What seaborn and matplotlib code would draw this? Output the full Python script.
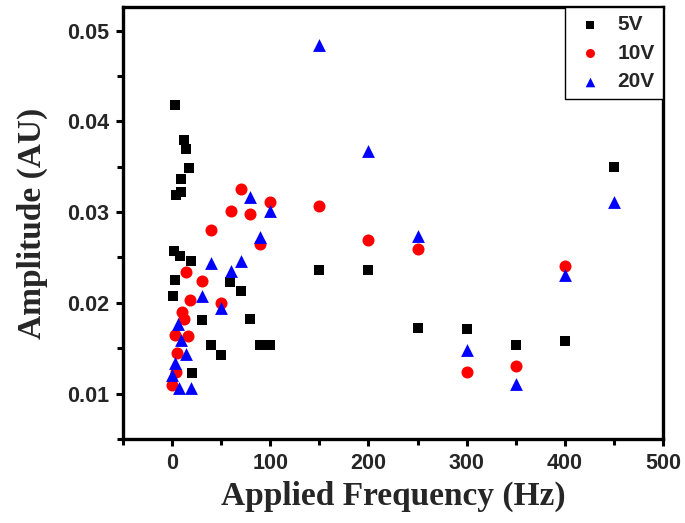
import matplotlib
matplotlib.use("Agg")
import matplotlib.pyplot as plt
import seaborn as sns
import pandas as pd
from matplotlib.ticker import MultipleLocator

# ---- data ----
freq_5v = [2.6, 11.8, 14.2, 16.9, 9.5, 4.4, 9.0, 1.6, 8.4, 19.3, 3.4, 1.0, 20.4,
           30.5, 59.3, 70.2, 39.7, 49.9, 79.7, 89.9, 100.1,
           150, 200, 250, 300, 350, 400, 450]
amp_5v = [0.04185, 0.0380, 0.0370, 0.03487, 0.03366, 0.03193, 0.03226, 0.02568,
          0.02513, 0.02458, 0.02248, 0.02072, 0.01228,
          0.01815, 0.02226, 0.02127, 0.01532, 0.01422, 0.01823, 0.01532, 0.0154,
          0.02366, 0.02366, 0.01724, 0.01713, 0.0154, 0.01584, 0.03498]

freq_10v = [0.0, 4.2, 5.1, 2.5, 16.4, 9.7, 11.8, 18.6, 14.3,
            30.1, 39.7, 50.2, 60.0, 70.2, 79.7, 89.9, 100.1,
            150, 200, 250, 300, 350, 400]
amp_10v = [0.01099, 0.01234, 0.01448, 0.01645, 0.01631, 0.0190, 0.01825, 0.02027, 0.02341,
           0.02239, 0.02807, 0.01999, 0.03009, 0.03259, 0.0298, 0.02653, 0.03112,
           0.03072, 0.02697, 0.02594, 0.01235, 0.01309, 0.02403]

freq_20v = [0.0, 3.4, 7.4, 19.6, 14.6, 8.8, 5.9,
            30.5, 39.7, 50.2, 60.0, 70.2, 79.7, 89.9, 100.1,
            150, 200, 250, 300, 350, 400, 450]
amp_20v = [0.01209, 0.01338, 0.01063, 0.01057, 0.01439, 0.01595, 0.01765,
           0.0208, 0.0244, 0.01944, 0.02355, 0.02458, 0.03168, 0.02722, 0.03009,
           0.04838, 0.03678, 0.02733, 0.01477, 0.01107, 0.02311, 0.03108]

x_ticks = [0, 100, 200, 300, 400, 500]
y_ticks = [0.01, 0.02, 0.03, 0.04, 0.05]

sns.set_theme(style="ticks")
plt.rcParams["font.family"] = ["Liberation Sans", "DejaVu Sans"]

fig = plt.figure(figsize=(6.85, 5.23), dpi=100)
ax = fig.add_axes([123 / 685, 1 - 439 / 523, (663 - 123) / 685, (439 - 7) / 523])

df5 = pd.DataFrame({"f": freq_5v, "a": amp_5v})
df10 = pd.DataFrame({"f": freq_10v, "a": amp_10v})
df20 = pd.DataFrame({"f": freq_20v, "a": amp_20v})

sns.scatterplot(data=df5, x="f", y="a", marker="s", color="black", s=60,
                linewidth=0, label="5V", ax=ax)
sns.scatterplot(data=df10, x="f", y="a", marker="o", color="#ff0000", s=75,
                linewidth=0, label="10V", ax=ax)
sns.scatterplot(data=df20, x="f", y="a", marker="^", color="#0000ff", s=85,
                linewidth=0, label="20V", ax=ax)

ax.set_xlim(-50, 500)
ax.set_ylim(0.005, 0.0526)
ax.set_xticks(x_ticks)
ax.set_yticks(y_ticks)
ax.set_xticklabels([str(v) for v in x_ticks])
ax.set_yticklabels([f"{v:.2f}" for v in y_ticks])
ax.xaxis.set_minor_locator(MultipleLocator(50))
ax.yaxis.set_minor_locator(MultipleLocator(0.005))

for side in ["left", "bottom", "right", "top"]:
    ax.spines[side].set_visible(True)
    ax.spines[side].set_linewidth(2.4)
    ax.spines[side].set_color("black")

ax.tick_params(axis="both", which="major", direction="out", length=5, width=2.2,
               color="black", labelsize=15.5, pad=5)
ax.tick_params(axis="both", which="minor", direction="out", length=4, width=2.2,
               color="black")
ax.tick_params(top=False, right=False, which="both")
for lbl in ax.get_xticklabels() + ax.get_yticklabels():
    lbl.set_fontweight("bold")

ax.set_xlabel("Applied Frequency (Hz)", fontsize=24, fontweight="bold",
              family=["Liberation Serif", "DejaVu Serif"], labelpad=5)
ax.set_ylabel("Amplitude (AU)", fontsize=24, fontweight="bold",
              family=["Liberation Serif", "DejaVu Serif"], labelpad=14)

leg = ax.legend(loc="upper right", borderaxespad=0, frameon=True, fancybox=False,
                prop={"weight": "bold", "size": 15}, handletextpad=0.5,
                borderpad=0.4, labelspacing=0.45, markerscale=0.75, handlelength=1.6)
leg.get_frame().set_edgecolor("black")
leg.get_frame().set_linewidth(1.0)
leg.get_frame().set_alpha(1)

fig.savefig("out.png", dpi=100)
